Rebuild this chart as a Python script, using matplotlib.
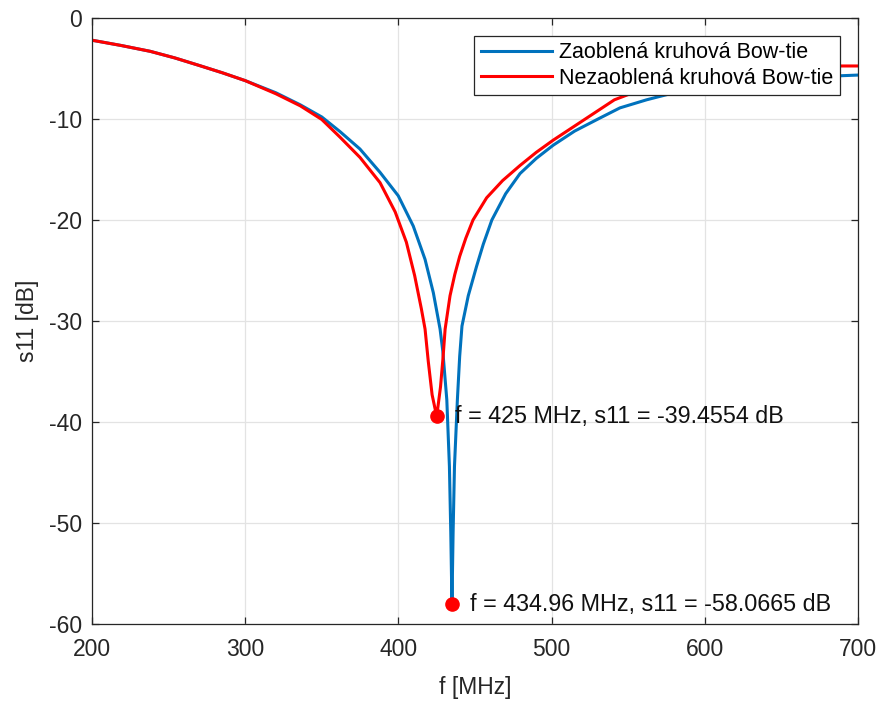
import matplotlib
matplotlib.use("Agg")
import matplotlib.pyplot as plt

plt.rcParams["font.family"] = ["Liberation Sans", "DejaVu Sans"]
plt.rcParams["axes.unicode_minus"] = False

# Zaoblena kruhova Bow-tie (blue)
f_zaobl = [200, 219, 238, 254, 270, 285, 300, 320, 336, 350, 361.9, 374.9,
           388, 399.9, 409.7, 417.4, 422.8, 427.2, 429, 431.6, 433.3, 434.2,
           434.96, 435.7, 436.6, 438.5, 440, 441.5, 445.6, 451, 455.4, 461,
           470, 479.4, 490, 501, 515, 531.6, 544.6, 562, 580, 600, 625, 650,
           675, 700]
s11_zaobl = [-2.2, -2.72, -3.3, -3.95, -4.7, -5.42, -6.2, -7.4, -8.6, -9.8,
             -11.25, -12.97, -15.28, -17.6, -20.6, -23.9, -27.2, -30.8,
             -33.0, -37.8, -44.4, -51.0, -58.0665, -51.0, -44.4, -37.8,
             -33.5, -30.5, -27.5, -24.6, -22.4, -20.0, -17.4, -15.4, -13.9,
             -12.6, -11.2, -9.9, -8.9, -8.1, -7.4, -6.8, -6.3, -6.0, -5.8,
             -5.65]

# Nezaoblena kruhova Bow-tie (red)
f_nezaobl = [200, 219, 238, 254, 270, 285, 300, 320, 336, 350, 361.9, 374.9,
             388, 397.9, 405.2, 410.6, 415, 417.4, 419.5, 422, 425, 427.5,
             429.2, 430.5, 433.7, 436.8, 440, 444, 448.7, 457.6, 468, 479.4,
             490, 501, 522, 541, 560, 580, 600, 625, 650, 675, 700]
s11_nezaobl = [-2.2, -2.72, -3.3, -3.95, -4.7, -5.42, -6.2, -7.5, -8.7,
               -10.05, -11.8, -13.8, -16.3, -19.2, -22.2, -25.5, -28.8,
               -30.8, -34.0, -37.3, -39.4554, -36.5, -33.5, -30.8, -27.5,
               -25.4, -23.6, -21.8, -20.0, -17.8, -16.1, -14.6, -13.3,
               -12.1, -10.0, -8.1, -7.0, -6.1, -5.5, -5.05, -4.85, -4.75,
               -4.75]

min_points = [(425, -39.4554), (434.96, -58.0665)]
min_labels = ["f = 425 MHz, s11 = -39.4554 dB",
              "f = 434.96 MHz, s11 = -58.0665 dB"]

fig = plt.figure(figsize=(8.81, 7.02), dpi=100)
ax = fig.add_axes([92 / 881, 78 / 702, 766 / 881, 606 / 702])

ax.plot(f_zaobl, s11_zaobl, color="#0072BD", linewidth=2.2,
        label="Zaoblená kruhová Bow-tie")
ax.plot(f_nezaobl, s11_nezaobl, color="#FF0000", linewidth=2.2,
        label="Nezaoblená kruhová Bow-tie")

for (fx, sy), txt in zip(min_points, min_labels):
    ax.plot(fx, sy, "o", color="#FF0000", markersize=9.5)
    ax.annotate(txt, (fx, sy), xytext=(13, 0), textcoords="offset points",
                va="center", ha="left", fontsize=16.8, color="#111111")

ax.set_xlim(200, 700)
ax.set_ylim(-60, 0)
ax.set_xticks([200, 300, 400, 500, 600, 700])
ax.set_yticks([-60, -50, -40, -30, -20, -10, 0])
ax.set_xlabel("f [MHz]", fontsize=16.5, color="#262626", labelpad=11)
ax.set_ylabel("s11 [dB]", fontsize=16.5, color="#262626", labelpad=7)
ax.grid(True, color="#e3e3e3", linewidth=0.9)
ax.set_axisbelow(True)
ax.tick_params(direction="in", top=True, right=True, length=5, width=0.9,
               labelsize=16.5, colors="#262626", pad=7)
ax.tick_params(axis="x", pad=10)
for sp in ax.spines.values():
    sp.set_color("#262626")
    sp.set_linewidth(0.9)

leg = ax.legend(loc="upper right", bbox_to_anchor=(0.9765, 0.9703),
                borderaxespad=0, fontsize=15.5, fancybox=False,
                framealpha=1, edgecolor="#262626", handlelength=3.3,
                handletextpad=0.35, borderpad=0.3, labelspacing=0.2)
leg.get_frame().set_linewidth(0.9)

fig.savefig("out.png", dpi=100)
